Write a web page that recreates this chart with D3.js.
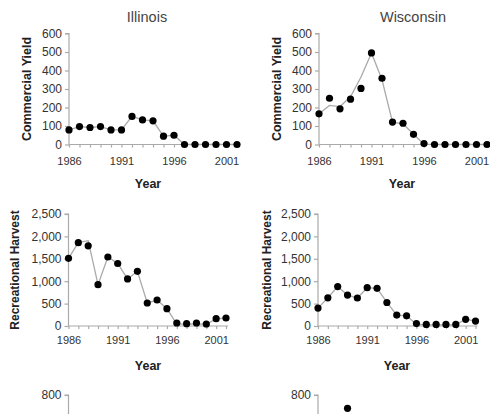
<!DOCTYPE html>
<html><head><meta charset="utf-8">
<script src="https://cdn.jsdelivr.net/npm/d3@7/dist/d3.min.js"></script>
<style>
html,body{margin:0;padding:0;background:#fff;}
svg{display:block;font-family:"Liberation Sans",Arial,Helvetica,sans-serif;}
</style></head><body>
<svg id="c" width="490" height="414"></svg>
<script>
const years = d3.range(1986, 2003);
const xTickLabels = [1986, 1991, 1996, 2001];
const states = ["Illinois", "Wisconsin"];

const commYTicks = [0, 100, 200, 300, 400, 500, 600];
const recYTicks = [0, 500, 1000, 1500, 2000, 2500];
const row3YTicks = [800];

// Commercial yield
const ilCommercial = [79, 97, 92, 97, 79, 79, 152, 133, 128, 45, 50, 0, 0, 0, 0, 0, 0];
const ilCommercialLine = [79, 97, 92, 97, 79, 79, 152, 133, 128, 45, 50, 0, 0, 0, 0, 0, 0];
const wiCommercial = [166, 250, 193, 245, 303, 495, 358, 121, 115, 55, 5, 0, 0, 0, 0, 0, 0];
const wiCommercialLine = [166, 211, 205, 258, 365, 495, 350, 121, 112, 55, 2, 0, 0, 0, 0, 0, 0];

// Recreational harvest
const ilRecreational = [1510, 1860, 1790, 923, 1540, 1395, 1050, 1220, 513, 580, 387, 67, 52, 67, 45, 164, 179];
const ilRecreationalLine = [1510, 1860, 1905, 923, 1540, 1395, 1050, 1220, 513, 580, 387, 40, 40, 45, 40, 160, 179];
const wiRecreational = [400, 630, 880, 690, 625, 855, 840, 525, 243, 228, 55, 35, 35, 35, 35, 150, 110];
const wiRecreationalLine = [400, 630, 880, 690, 625, 855, 840, 525, 243, 228, 40, 25, 25, 25, 25, 150, 110];

// Third row (only the visible top part)
const row3Years = [1989];
const wiRow3 = [705];

const svg = d3.select("#c");
const FONT_TICK = 12, FONT_X = 11;

function panel(opts){
  const {x0, x1, yTop, yBot, yDomain, yTicks, yFmt, xAxis, label, labelX, yearY, data, line, yearLabelX, dotYears, clipBottom} = opts;
  const x = d3.scaleLinear().domain([1986, 2002]).range([x0, x1]);
  const y = d3.scaleLinear().domain(yDomain).range([yBot, yTop]);
  const g = svg.append("g");
  const ya = g.append("g").attr("transform", `translate(${x0},0)`)
    .call(d3.axisLeft(y).tickValues(yTicks).tickFormat(yFmt).tickSize(4).tickPadding(3));
  ya.select(".domain").attr("stroke", "#aaa").attr("stroke-width", 1.2)
    .attr("d", `M-4,${y(yTicks[yTicks.length-1])}H0V${clipBottom ? 420 : yBot}`);
  ya.selectAll(".tick line").attr("stroke", "#aaa").attr("stroke-width", 1.2);
  ya.selectAll(".tick text").attr("fill", "#333").attr("font-size", FONT_TICK);
  if (xAxis){
    const xa = g.append("g").attr("transform", `translate(0,${yBot})`)
      .call(d3.axisBottom(x).tickValues(years).tickFormat(d => xTickLabels.includes(d) ? d : "").tickSize(3).tickPadding(opts.xPad || 7));
    xa.select(".domain").attr("stroke", "#aaa").attr("stroke-width", 1.2).attr("d", `M${x0},0H${x1+2}`);
    xa.selectAll(".tick line").attr("stroke", "#aaa").attr("stroke-width", 1.2);
    xa.selectAll(".tick text").attr("fill", "#333").attr("font-size", FONT_X);
    g.append("text").attr("x", yearLabelX).attr("y", yearY).attr("text-anchor", "middle")
      .attr("font-weight", "bold").attr("font-size", 12.5).attr("fill", "#222").text("Year");
  }
  if (label){
    g.append("text").attr("transform", `translate(${labelX},${(yTop+yBot)/2}) rotate(-90)`)
      .attr("text-anchor", "middle").attr("font-weight", "bold").attr("font-size", opts.labelSize || 12)
      .attr("fill", "#222").text(label);
  }
  const yrs = dotYears || years;
  if (line){
    g.append("path").datum(line).attr("fill", "none").attr("stroke", "#aaa").attr("stroke-width", 1.3)
      .attr("d", d3.line().x((d,i) => x(yrs[i])).y(d => y(d)));
  }
  g.selectAll("circle").data(data).join("circle")
    .attr("cx", (d,i) => x(yrs[i])).attr("cy", d => y(d)).attr("r", 3.6).attr("fill", "#000");
}

const comma = d3.format(",");

svg.append("text").attr("x", 147).attr("y", 22).attr("text-anchor", "middle")
  .attr("font-size", 14.5).attr("fill", "#444").text(states[0]);
svg.append("text").attr("x", 413).attr("y", 22).attr("text-anchor", "middle")
  .attr("font-size", 14.5).attr("fill", "#444").text(states[1]);

// Row 1
panel({x0: 69, x1: 237, yTop: 33.5, yBot: 144.5, yDomain: [0, 600], yTicks: commYTicks, yFmt: d3.format("d"),
  xAxis: true, xPad: 10, label: "Commercial Yield", labelX: 31, yearY: 188, yearLabelX: 148,
  data: ilCommercial, line: ilCommercialLine, labelSize: 12.5});
panel({x0: 319, x1: 487, yTop: 33.5, yBot: 144.5, yDomain: [0, 600], yTicks: commYTicks, yFmt: d3.format("d"),
  xAxis: true, xPad: 10, label: "Commercial Yield", labelX: 281, yearY: 188, yearLabelX: 402,
  data: wiCommercial, line: wiCommercialLine, labelSize: 12.5});

// Row 2
panel({x0: 68.5, x1: 226, yTop: 214, yBot: 326, yDomain: [0, 2500], yTicks: recYTicks, yFmt: comma,
  xAxis: true, label: "Recreational Harvest", labelX: 19, yearY: 370, yearLabelX: 148,
  data: ilRecreational, line: ilRecreationalLine, labelSize: 12});
panel({x0: 318, x1: 475.5, yTop: 214, yBot: 326, yDomain: [0, 2500], yTicks: recYTicks, yFmt: comma,
  xAxis: true, label: "Recreational Harvest", labelX: 271, yearY: 370, yearLabelX: 397,
  data: wiRecreational, line: wiRecreationalLine, labelSize: 12});

// Row 3 (cut off)
panel({x0: 68.5, x1: 226, yTop: 395, yBot: 507, yDomain: [0, 800], yTicks: row3YTicks, yFmt: d3.format("d"),
  xAxis: false, data: [], clipBottom: true});
panel({x0: 318, x1: 475.5, yTop: 395, yBot: 507, yDomain: [0, 800], yTicks: row3YTicks, yFmt: d3.format("d"),
  xAxis: false, data: wiRow3, dotYears: row3Years, clipBottom: true});
</script>
</body></html>
